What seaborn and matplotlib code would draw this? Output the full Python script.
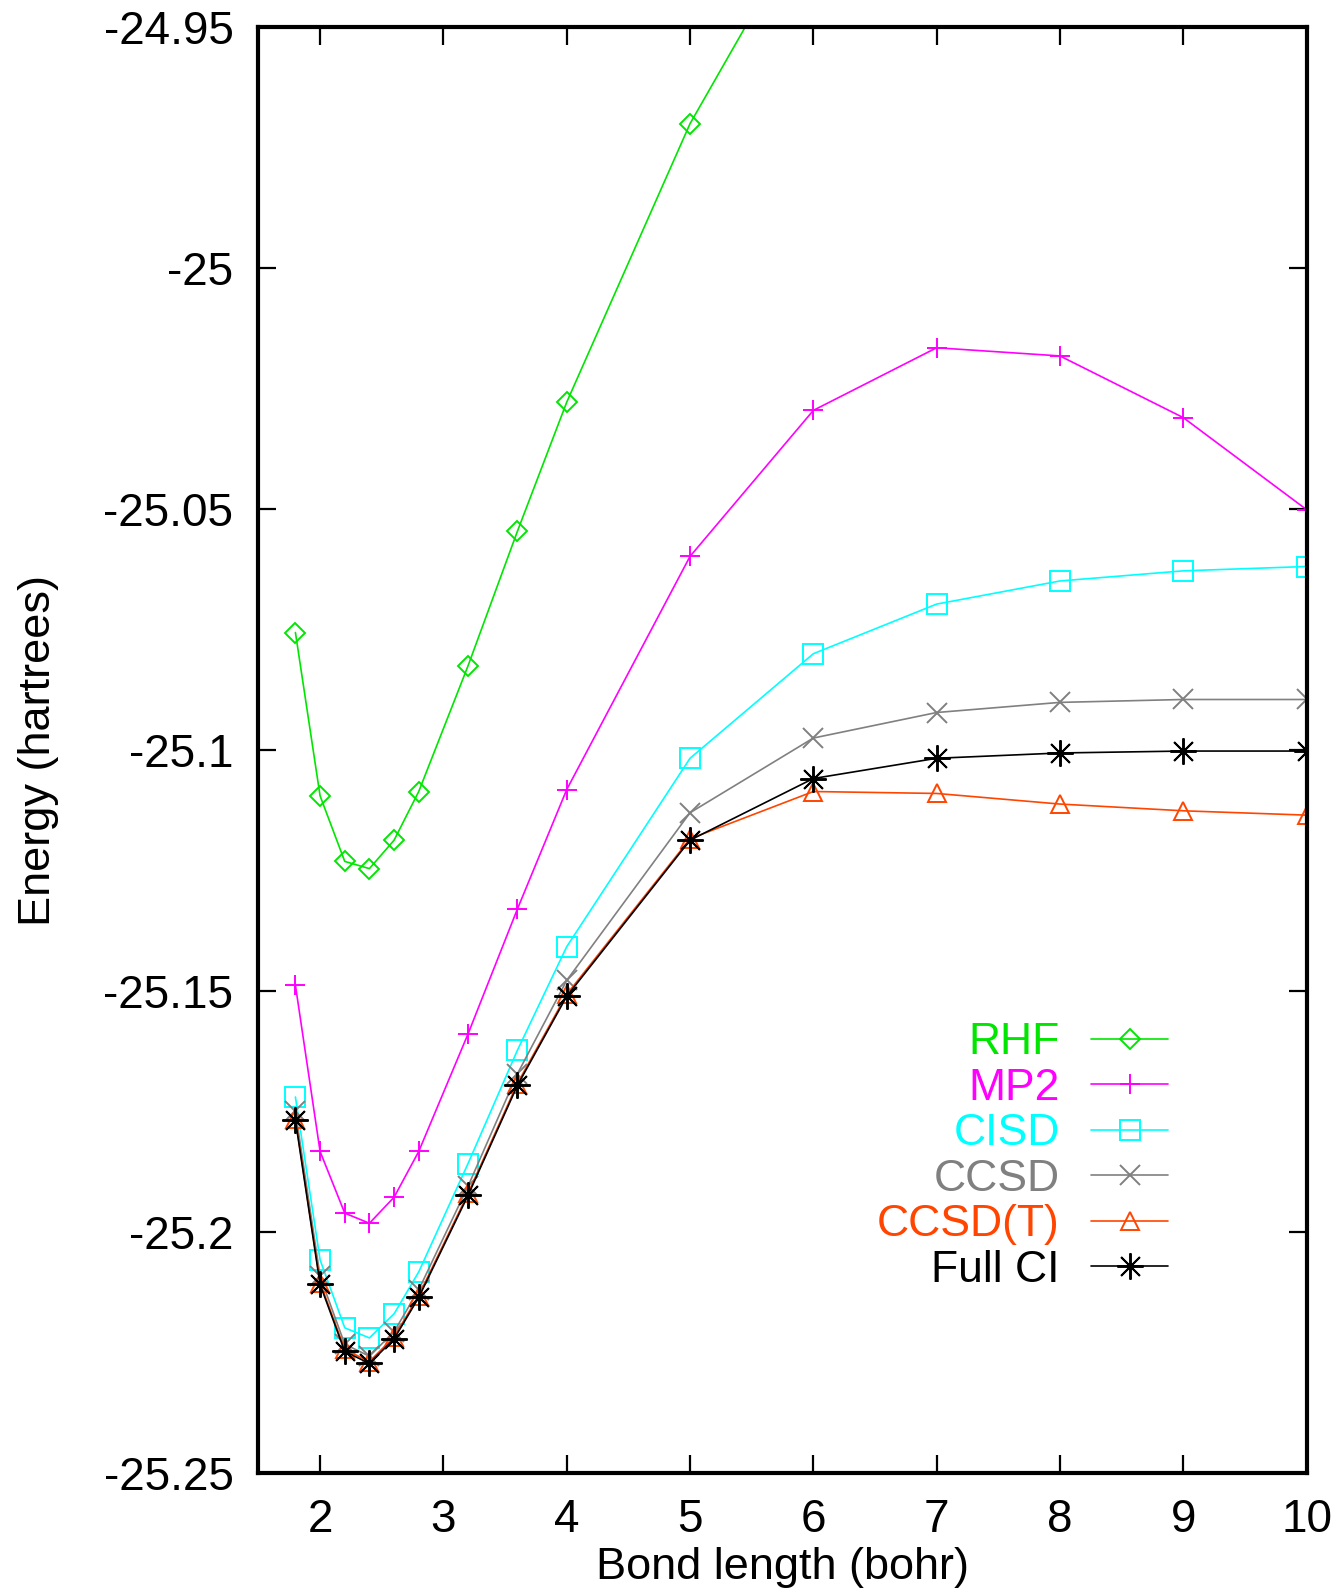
import matplotlib
matplotlib.use("Agg")
import matplotlib.pyplot as plt
import seaborn as sns
import numpy as np
import pandas as pd
from matplotlib.ticker import FixedLocator, FormatStrFormatter

# ---- data ----
bond = [1.8, 2.0, 2.2, 2.4, 2.6, 2.8, 3.2, 3.6, 4.0, 5.0, 6.0, 7.0, 8.0, 9.0, 10.0]
rhf = [-25.0756, -25.1095, -25.1231, -25.1246, -25.1187, -25.1086, -25.0825, -25.0546,
       -25.0278, -24.9700, -24.9252, -24.8950, -24.8760, -24.8640, -24.8560]
mp2 = [-25.1488, -25.1833, -25.1961, -25.1982, -25.1928, -25.1833, -25.1589, -25.1330,
       -25.1082, -25.0598, -25.0295, -25.0165, -25.0182, -25.0310, -25.0501]
cisd = [-25.1720, -25.2058, -25.2199, -25.2220, -25.2170, -25.2083, -25.1858, -25.1623,
        -25.1408, -25.1017, -25.0800, -25.0697, -25.0649, -25.0628, -25.0619]
ccsd = [-25.1750, -25.2092, -25.2233, -25.2258, -25.2207, -25.2120, -25.1905, -25.1672,
        -25.1478, -25.1130, -25.0975, -25.0922, -25.0901, -25.0895, -25.0895]
ccsd_t = [-25.1765, -25.2105, -25.2244, -25.2269, -25.2218, -25.2132, -25.1920, -25.1692,
          -25.1507, -25.1184, -25.1086, -25.1090, -25.1112, -25.1126, -25.1135]
fci = [-25.1768, -25.2109, -25.2248, -25.2273, -25.2222, -25.2136, -25.1924, -25.1696,
       -25.1511, -25.1187, -25.1059, -25.1017, -25.1006, -25.1002, -25.1002]

methods = ["RHF", "MP2", "CISD", "CCSD", "CCSD(T)", "Full CI"]
series = [rhf, mp2, cisd, ccsd, ccsd_t, fci]
colors = ["#00e600", "#ff00ff", "#00ffff", "#808080", "#ff4500", "#000000"]
markers = ["D", "+", "s", "x", "^", (8, 2, 0)]
msizes = [10.5, 15, 14.5, 14, 13, 19]

xticks = [2, 3, 4, 5, 6, 7, 8, 9, 10]
yticks = [-24.95, -25.0, -25.05, -25.1, -25.15, -25.2, -25.25]

# ---- style ----
sns.set_style("ticks")
plt.rcParams["font.family"] = ["Liberation Sans", "DejaVu Sans"]
plt.rcParams["axes.unicode_minus"] = False
plt.rcParams["text.color"] = "black"
plt.rcParams["axes.labelcolor"] = "black"
plt.rcParams["xtick.color"] = "black"
plt.rcParams["ytick.color"] = "black"
plt.rcParams["axes.edgecolor"] = "black"

fig = plt.figure(figsize=(13.39, 15.89), dpi=100)
ax = fig.add_axes([0.193, 0.0731, 0.9758 - 0.193, 0.9828 - 0.0731])

for name, vals, c, m, ms in zip(methods, series, colors, markers, msizes):
    df = pd.DataFrame({"x": bond, "y": vals})
    sns.lineplot(data=df, x="x", y="y", ax=ax, color=c, marker=m, markersize=ms,
                 markerfacecolor="none", markeredgecolor=c, markeredgewidth=1.4,
                 linewidth=1.2, label=name, sort=False)

ax.set_xlim(1.5, 10)
ax.set_ylim(-25.25, -24.95)
ax.xaxis.set_major_locator(FixedLocator(xticks))
ax.yaxis.set_major_locator(FixedLocator(yticks))
ax.yaxis.set_major_formatter(FormatStrFormatter("%g"))
ax.xaxis.set_major_formatter(FormatStrFormatter("%g"))
ax.tick_params(direction="in", length=13, width=1.6, top=True, right=True,
               labelsize=33, pad=18, colors="black")
for s in ax.spines.values():
    s.set_linewidth(3)
    s.set_visible(True)
    s.set_color("black")

ax.set_xlabel("Bond length (bohr)", fontsize=32.5, labelpad=4)
ax.set_ylabel("Energy (hartrees)", fontsize=32.5, labelpad=32)

leg = ax.legend(loc="upper right", bbox_to_anchor=(0.868, 0.3116), frameon=False,
                markerfirst=False, fontsize=32, handlelength=1.74, handletextpad=0.7,
                labelspacing=0.1, borderpad=0, borderaxespad=0)
for txt, c in zip(leg.get_texts(), colors):
    txt.set_color(c)

fig.savefig("out.png", dpi=100)
